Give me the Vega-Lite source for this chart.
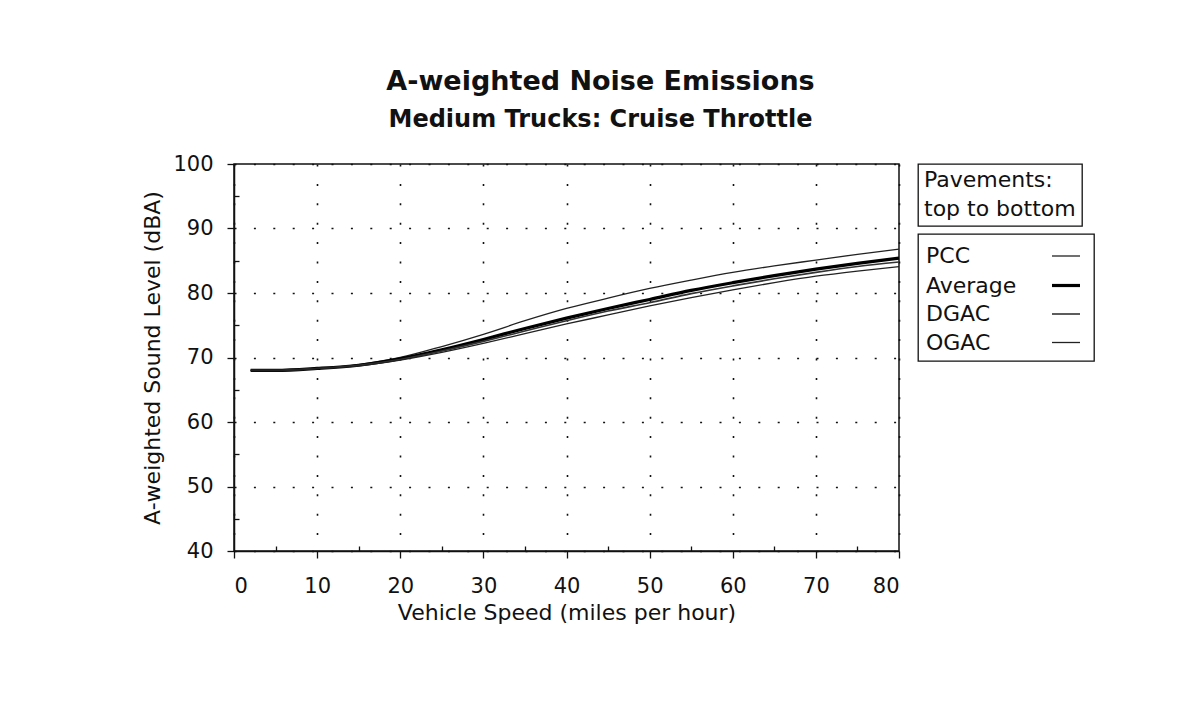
{
  "$schema": "https://vega.github.io/schema/vega-lite/v6.json",
  "autosize": "none",
  "width": 665,
  "height": 387,
  "padding": {"left": 234, "top": 164, "right": 302, "bottom": 159},
  "background": "white",
  "title": {
    "text": "A-weighted Noise Emissions",
    "subtitle": "Medium Trucks: Cruise Throttle",
    "anchor": "middle",
    "frame": "group",
    "dx": 34,
    "offset": 20,
    "font": "DejaVu Sans",
    "fontSize": 27,
    "fontWeight": "bold",
    "color": "#111",
    "subtitleFont": "DejaVu Sans",
    "subtitleFontSize": 24,
    "subtitleFontWeight": "bold",
    "subtitleColor": "#111",
    "subtitlePadding": 12
  },
  "datasets": {
    "curves": [
      {"speed": 2, "pavement": "PCC", "level": 68.0},
      {"speed": 5, "pavement": "PCC", "level": 68.0},
      {"speed": 10, "pavement": "PCC", "level": 68.3},
      {"speed": 15, "pavement": "PCC", "level": 68.9},
      {"speed": 20, "pavement": "PCC", "level": 70.0},
      {"speed": 25, "pavement": "PCC", "level": 71.7},
      {"speed": 30, "pavement": "PCC", "level": 73.6},
      {"speed": 35, "pavement": "PCC", "level": 75.7},
      {"speed": 40, "pavement": "PCC", "level": 77.6},
      {"speed": 45, "pavement": "PCC", "level": 79.2},
      {"speed": 50, "pavement": "PCC", "level": 80.7},
      {"speed": 55, "pavement": "PCC", "level": 82.0},
      {"speed": 60, "pavement": "PCC", "level": 83.2},
      {"speed": 65, "pavement": "PCC", "level": 84.2},
      {"speed": 70, "pavement": "PCC", "level": 85.1},
      {"speed": 75, "pavement": "PCC", "level": 86.0},
      {"speed": 80, "pavement": "PCC", "level": 86.8},
      {"speed": 2, "pavement": "Average", "level": 68.0},
      {"speed": 5, "pavement": "Average", "level": 68.0},
      {"speed": 10, "pavement": "Average", "level": 68.3},
      {"speed": 15, "pavement": "Average", "level": 68.8},
      {"speed": 20, "pavement": "Average", "level": 69.8},
      {"speed": 25, "pavement": "Average", "level": 71.2},
      {"speed": 30, "pavement": "Average", "level": 72.8},
      {"speed": 35, "pavement": "Average", "level": 74.5},
      {"speed": 40, "pavement": "Average", "level": 76.1},
      {"speed": 45, "pavement": "Average", "level": 77.6},
      {"speed": 50, "pavement": "Average", "level": 79.0},
      {"speed": 55, "pavement": "Average", "level": 80.4},
      {"speed": 60, "pavement": "Average", "level": 81.6},
      {"speed": 65, "pavement": "Average", "level": 82.7},
      {"speed": 70, "pavement": "Average", "level": 83.7},
      {"speed": 75, "pavement": "Average", "level": 84.6},
      {"speed": 80, "pavement": "Average", "level": 85.4},
      {"speed": 2, "pavement": "DGAC", "level": 68.0},
      {"speed": 5, "pavement": "DGAC", "level": 68.0},
      {"speed": 10, "pavement": "DGAC", "level": 68.3},
      {"speed": 15, "pavement": "DGAC", "level": 68.8},
      {"speed": 20, "pavement": "DGAC", "level": 69.7},
      {"speed": 25, "pavement": "DGAC", "level": 71.0},
      {"speed": 30, "pavement": "DGAC", "level": 72.5},
      {"speed": 35, "pavement": "DGAC", "level": 74.1},
      {"speed": 40, "pavement": "DGAC", "level": 75.7},
      {"speed": 45, "pavement": "DGAC", "level": 77.2},
      {"speed": 50, "pavement": "DGAC", "level": 78.5},
      {"speed": 55, "pavement": "DGAC", "level": 79.9},
      {"speed": 60, "pavement": "DGAC", "level": 81.1},
      {"speed": 65, "pavement": "DGAC", "level": 82.2},
      {"speed": 70, "pavement": "DGAC", "level": 83.2},
      {"speed": 75, "pavement": "DGAC", "level": 84.1},
      {"speed": 80, "pavement": "DGAC", "level": 84.8},
      {"speed": 2, "pavement": "OGAC", "level": 68.0},
      {"speed": 5, "pavement": "OGAC", "level": 68.0},
      {"speed": 10, "pavement": "OGAC", "level": 68.3},
      {"speed": 15, "pavement": "OGAC", "level": 68.7},
      {"speed": 20, "pavement": "OGAC", "level": 69.6},
      {"speed": 25, "pavement": "OGAC", "level": 70.8},
      {"speed": 30, "pavement": "OGAC", "level": 72.2},
      {"speed": 35, "pavement": "OGAC", "level": 73.7},
      {"speed": 40, "pavement": "OGAC", "level": 75.2},
      {"speed": 45, "pavement": "OGAC", "level": 76.6},
      {"speed": 50, "pavement": "OGAC", "level": 78.0},
      {"speed": 55, "pavement": "OGAC", "level": 79.3},
      {"speed": 60, "pavement": "OGAC", "level": 80.5},
      {"speed": 65, "pavement": "OGAC", "level": 81.6},
      {"speed": 70, "pavement": "OGAC", "level": 82.6},
      {"speed": 75, "pavement": "OGAC", "level": 83.4},
      {"speed": 80, "pavement": "OGAC", "level": 84.1}
    ],
    "note": [
      {"note": "top to bottom"}
    ]
  },
  "layer": [
    {
      "data": {"name": "note"},
      "mark": {"type": "point", "filled": true, "opacity": 0},
      "encoding": {
        "fill": {
          "field": "note",
          "type": "nominal",
          "scale": {"range": ["white"]},
          "legend": {
            "title": "Pavements:",
            "symbolOpacity": 0,
            "symbolSize": 1,
            "symbolStrokeWidth": 0,
            "labelOffset": -22,
            "padding": 6,
            "titlePadding": 6
          }
        }
      }
    },
    {
      "data": {"name": "curves"},
      "mark": {"type": "line", "interpolate": "monotone"},
      "encoding": {
        "x": {
          "field": "speed",
          "type": "quantitative",
          "scale": {"domain": [0, 80], "nice": false},
          "axis": {
            "title": "Vehicle Speed (miles per hour)",
            "values": [0, 5, 10, 15, 20, 25, 30, 35, 40, 45, 50, 55, 60, 65, 70, 75, 80],
            "labelExpr": "datum.value % 10 === 0 ? datum.label : ''",
            "tickSize": {"condition": {"test": "datum.value % 10 === 0", "value": 7}, "value": -5},
            "gridOpacity": {"condition": {"test": "datum.value % 10 === 0", "value": 1}, "value": 0}
          }
        },
        "y": {
          "field": "level",
          "type": "quantitative",
          "scale": {"domain": [40, 100], "nice": false, "zero": false},
          "axis": {
            "title": "A-weighted Sound Level (dBA)",
            "values": [40, 45, 50, 55, 60, 65, 70, 75, 80, 85, 90, 95, 100],
            "labelExpr": "datum.value % 10 === 0 ? datum.label : ''",
            "tickSize": {"condition": {"test": "datum.value % 10 === 0", "value": 7}, "value": -5},
            "gridOpacity": {"condition": {"test": "datum.value % 10 === 0", "value": 1}, "value": 0}
          }
        },
        "stroke": {
          "field": "pavement",
          "type": "nominal",
          "sort": ["PCC", "Average", "DGAC", "OGAC"],
          "scale": {"domain": ["PCC", "Average", "DGAC", "OGAC"], "range": ["#222", "#000", "#333", "#222"]},
          "legend": {
            "title": null,
            "symbolSize": 784,
            "symbolOffset": 125,
            "labelOffset": -156,
            "rowPadding": 2.5,
            "padding": 7
          }
        },
        "strokeWidth": {
          "field": "pavement",
          "type": "nominal",
          "sort": ["PCC", "Average", "DGAC", "OGAC"],
          "scale": {"type": "ordinal", "domain": ["PCC", "Average", "DGAC", "OGAC"], "range": [1.3, 3.2, 1.6, 1.3]},
          "legend": null
        }
      }
    }
  ],
  "config": {
    "font": "DejaVu Sans",
    "view": {"stroke": "#111", "strokeWidth": 1.5},
    "axis": {
      "labelFont": "DejaVu Sans",
      "labelFontSize": 21,
      "labelColor": "#111",
      "titleFont": "DejaVu Sans",
      "titleFontSize": 22,
      "titleFontWeight": "normal",
      "titleColor": "#111",
      "domainColor": "#111",
      "domainWidth": 1.5,
      "tickColor": "#111",
      "tickWidth": 1.3,
      "grid": true,
      "gridColor": "#111",
      "gridDash": [2, 17.4],
      "gridWidth": 1.6
    },
    "axisX": {"labelPadding": 17, "titlePadding": 6},
    "axisY": {"labelPadding": 14, "titlePadding": 8},
    "legend": {
      "orient": "right",
      "offset": 12,
      "strokeColor": "#111",
      "strokeWidth": 1.3,
      "fillColor": "white",
      "labelFont": "DejaVu Sans",
      "labelFontSize": 22,
      "labelColor": "#111",
      "titleFont": "DejaVu Sans",
      "titleFontSize": 22,
      "titleFontWeight": "normal",
      "titleColor": "#111",
      "labelLimit": 300
    }
  }
}
